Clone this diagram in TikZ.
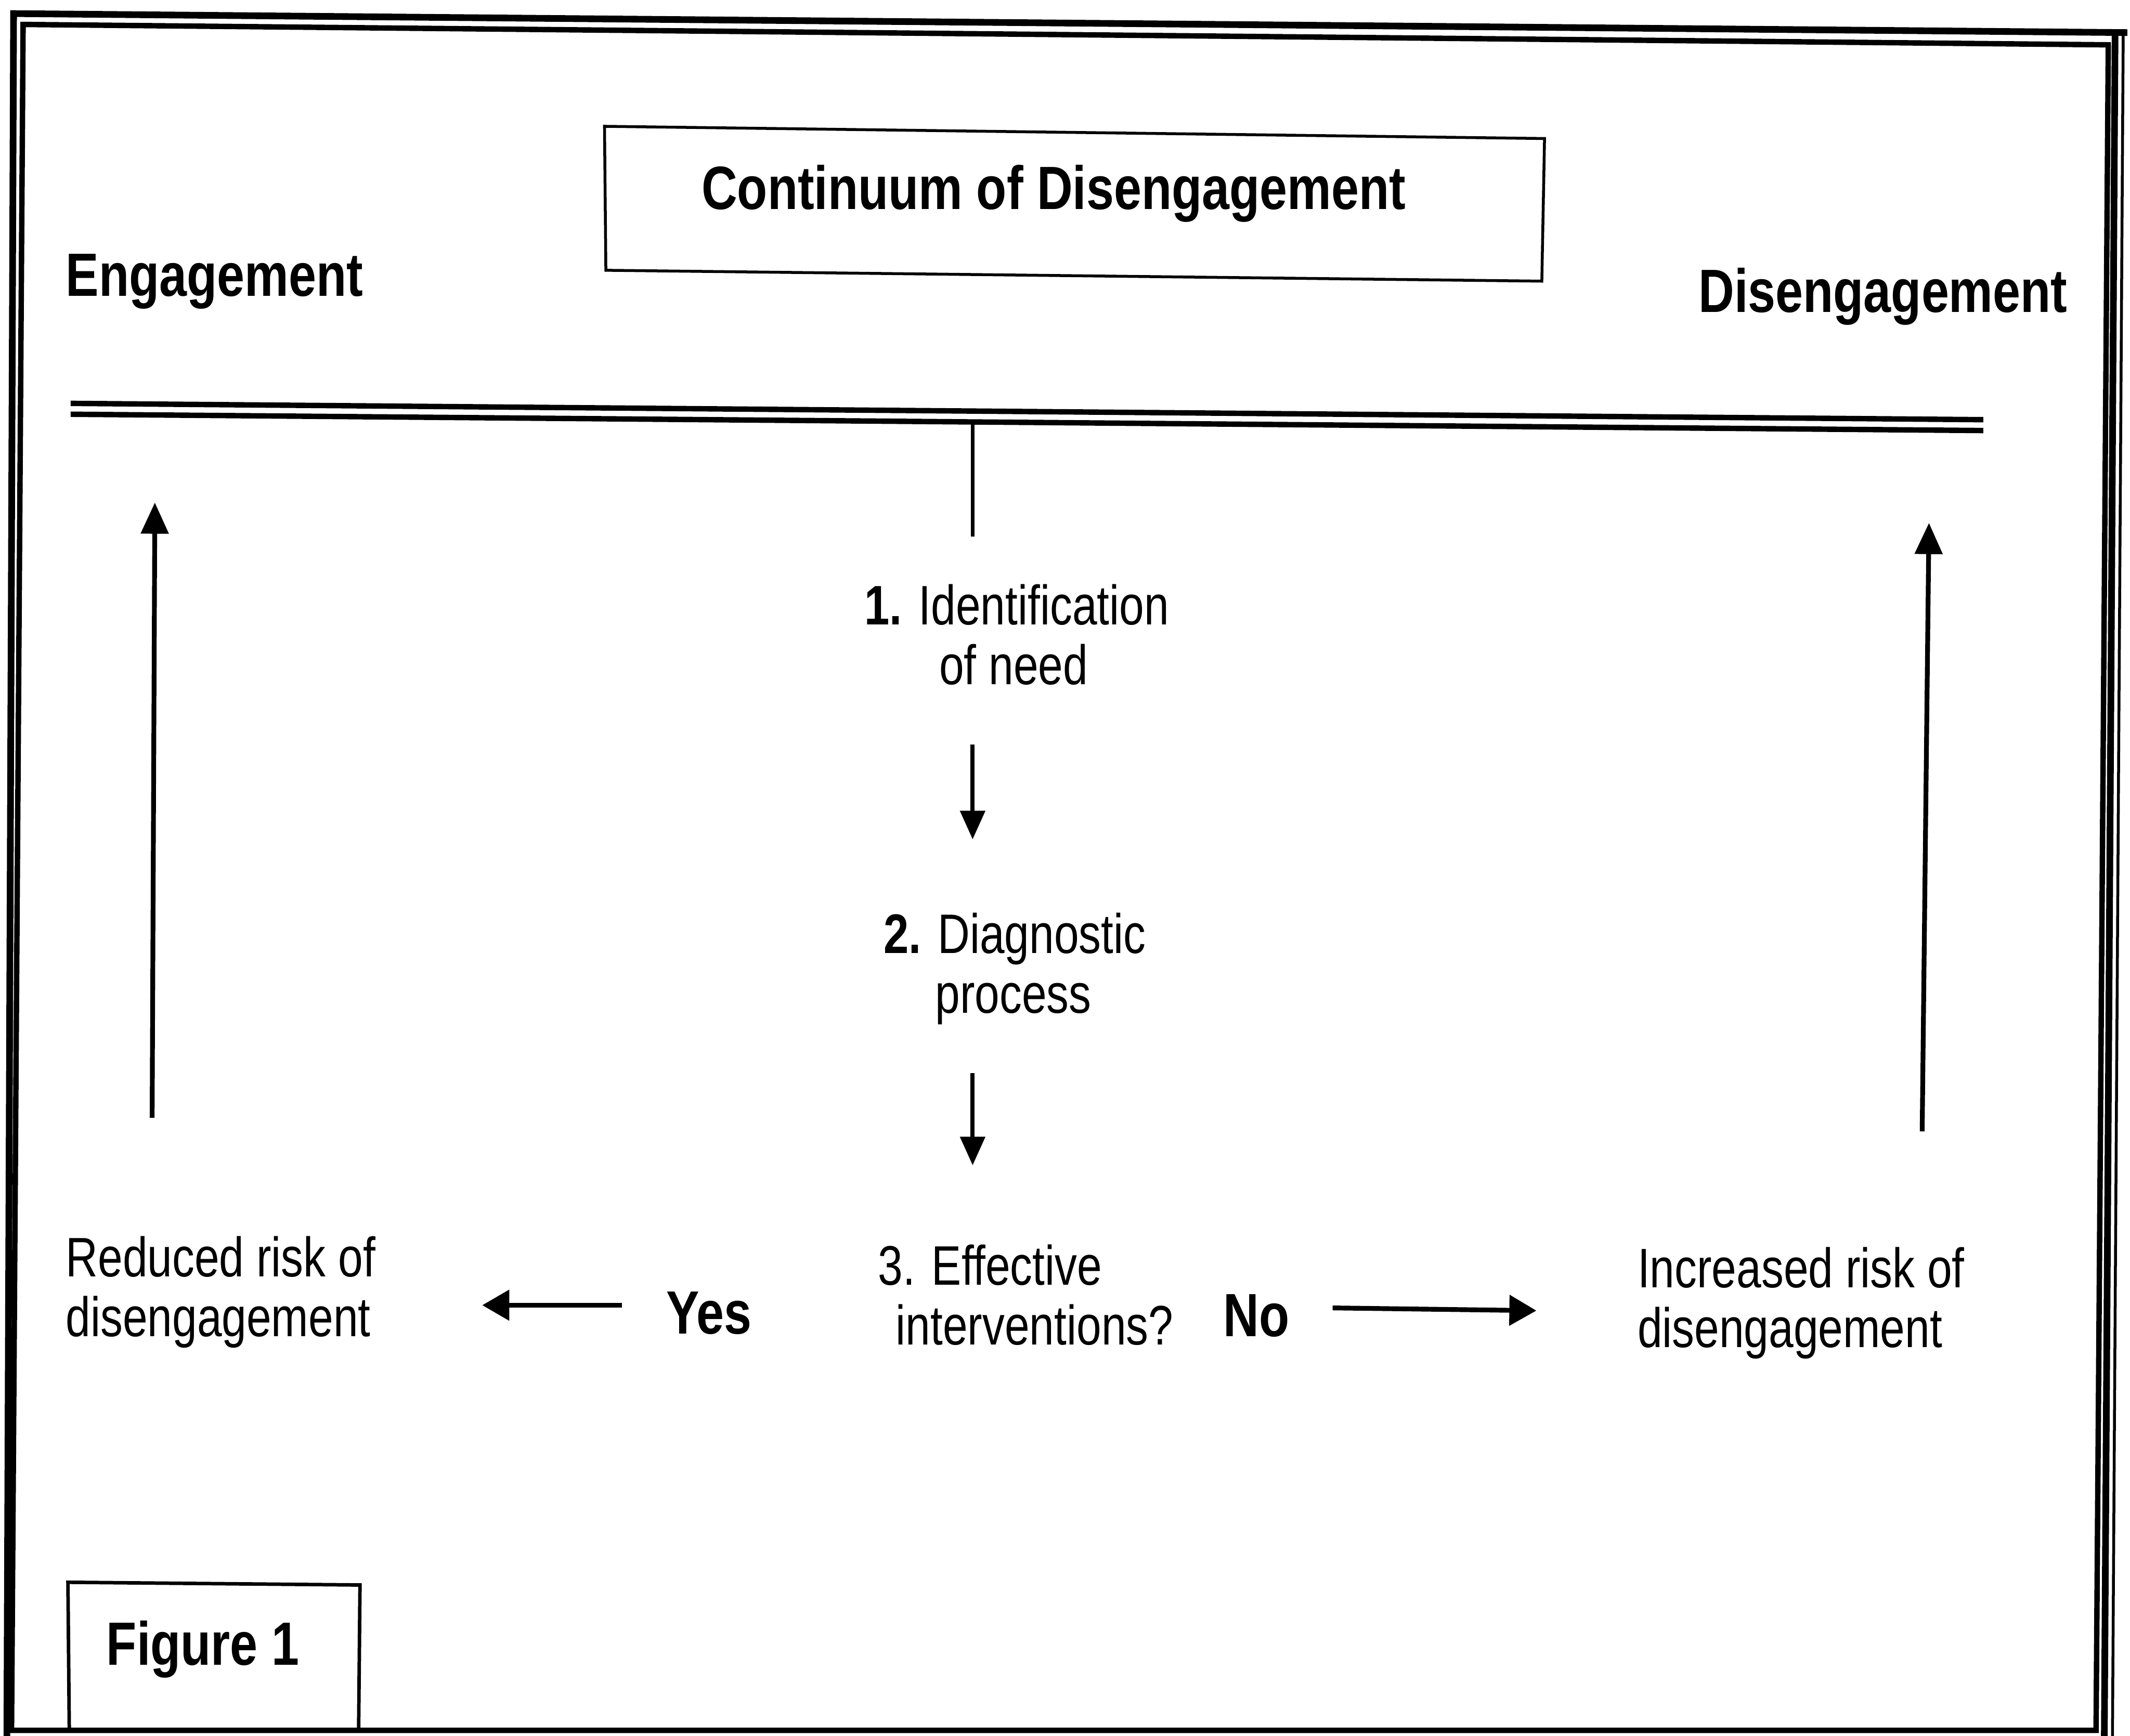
\documentclass[tikz,border=0pt]{standalone}
\usepackage{fontspec}
\setmainfont{Liberation Sans}[FakeStretch=0.80,BoldFeatures={FakeStretch=0.81}]
\usetikzlibrary{arrows.meta}
\begin{document}
\begin{tikzpicture}[x={(0.015cm,0)},y={(0,-0.015cm)},
  heading/.style={font=\fontsize{19.2pt}{21pt}\selectfont\bfseries, anchor=base west, inner sep=0},
  body/.style={font=\fontsize{17.5pt}{19.2pt}\selectfont, anchor=base west, inner sep=0},
  outerline/.style={line width=2.1pt, line join=miter},
  innerline/.style={line width=1.7pt, line join=miter},
  boxline/.style={line width=0.9pt, line join=miter},
  dblline/.style={line width=1.7pt},
  stemline/.style={line width=1.1pt},
  uparr/.style={line width=1.5pt, -{Triangle[length=9.8pt,width=8.5pt]}},
  harr/.style={line width=1.5pt, -{Triangle[length=8.5pt,width=9.4pt]}},
  downarr/.style={line width=1.3pt, -{Triangle[length=9pt,width=7.7pt]}},
]
\useasboundingbox (0,0) rectangle (1568,1278);
\fill[white] (0,0) rectangle (1568,1278);
% outer frame
\draw[outerline] (1566,24) -- (10,10) -- (5,1290);
\draw[outerline] (1557,25) -- (1549,1290);
\draw[line width=0.9pt] (1563,24) -- (1555,1290);
% inner frame
\draw[innerline] (17,18) -- (1552,33) -- (1543,1274) -- (8.5,1274) -- cycle;
% title box
\draw[boxline] (445,93) -- (1137,102) -- (1135,207) -- (446,199) -- cycle;
\node[heading] (title) at (516,154) {Continuum of Disengagement};
\node[heading] (eng) at (48,218) {Engagement};
\node[heading] (dis) at (1250,230) {Disengagement};
% double line
\draw[dblline] (52,297) -- (1460,309);
\draw[dblline] (52,305) -- (1460,317);
% stem
\coordinate (stemtop) at (716,312);
\coordinate (stembot) at (716,395);
\draw[stemline] (stemtop) -- (stembot);
% steps
\node[body] (s1a) at (636,460) {\textbf{1.} Identification};
\node[body] (s1b) at (691,504) {of need};
\node[body] (s2a) at (650,702) {\textbf{2.} Diagnostic};
\node[body] (s2b) at (688,746) {process};
\node[body] (s3a) at (646,946) {3. Effective};
\node[body] (s3b) at (659,990) {interventions?};
\node[heading] (yes) at (490,982) {Yes};
\node[heading] (no) at (900,984) {No};
\node[body] (red1) at (48,940) {Reduced risk of};
\node[body] (red2) at (48,984) {disengagement};
\node[body] (inc1) at (1205,948) {Increased risk of};
\node[body] (inc2) at (1205,992) {disengagement};
% arrows
\coordinate (a1s) at (716,548);
\coordinate (a1e) at (716,618);
\coordinate (a2s) at (716,790);
\coordinate (a2e) at (716,858);
\coordinate (yS) at (458,961);
\coordinate (yE) at (355,961);
\coordinate (nS) at (981,963);
\coordinate (nE) at (1131,965);
\coordinate (lS) at (112,823);
\coordinate (lE) at (114,370);
\coordinate (rS) at (1415,833);
\coordinate (rE) at (1420,385);
\draw[downarr] (a1s) -- (a1e);
\draw[downarr] (a2s) -- (a2e);
\draw[harr] (yS) -- (yE);
\draw[harr] (nS) -- (nE);
\draw[uparr] (lS) -- (lE);
\draw[uparr] (rS) -- (rE);
% figure box
\draw[line width=1.1pt, line join=miter] (51,1274) -- (50,1165) -- (265,1167) -- (264,1274);
\node[heading] (fig) at (78,1226) {Figure 1};
\end{tikzpicture}
\end{document}
